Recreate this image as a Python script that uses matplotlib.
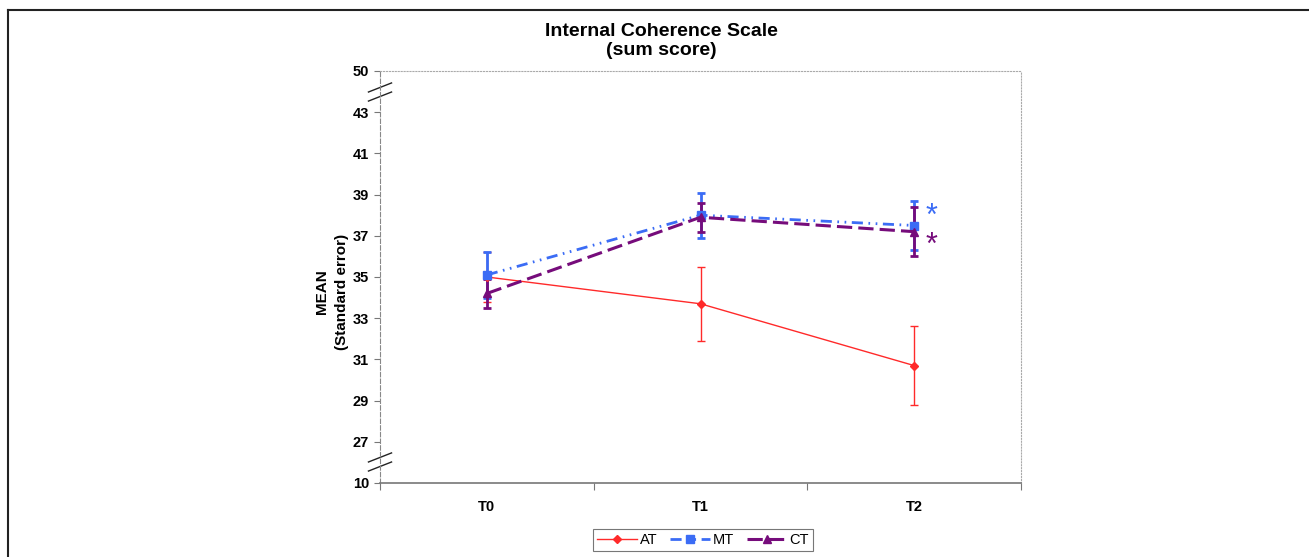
import matplotlib.pyplot as plt
from matplotlib.lines import Line2D

plt.rcParams['font.family'] = ['Liberation Sans', 'DejaVu Sans']

# data
times = ['T0', 'T1', 'T2']
at_mean = [35.0, 33.7, 30.7]
at_se = [1.2, 1.8, 1.9]
mt_mean = [35.1, 38.0, 37.5]
mt_se = [1.1, 1.1, 1.2]
ct_mean = [34.2, 37.9, 37.2]
ct_se = [0.7, 0.7, 1.2]

# broken axis: 25 is shown as 10, 45 as 50
ytick_pos = [25, 27, 29, 31, 33, 35, 37, 39, 41, 43, 45]
ytick_lab = ['10', '27', '29', '31', '33', '35', '37', '39', '41', '43', '50']

c_at = '#ff2a2a'
c_mt = '#3b6cf5'
c_ct = '#760c7b'
ls_mt = (0, (4, 2, 0.6, 2, 0.6, 2))
ls_ct = (0, (5, 2))

fig = plt.figure(figsize=(13.09, 5.57), dpi=100)
ax = fig.add_axes([380/1309, 1-483/557, 641/1309, 412/557])

x = list(range(len(times)))

ax.errorbar(x, at_mean, yerr=at_se, color=c_at, lw=1.0, marker='D', ms=4,
            capsize=3, elinewidth=1.0, capthick=1.0)
ax.errorbar(x, mt_mean, yerr=mt_se, color=c_mt, lw=2.0, marker='s', ms=6,
            linestyle=ls_mt, capsize=3, elinewidth=2.0, capthick=2.0)
ax.errorbar(x, ct_mean, yerr=ct_se, color=c_ct, lw=2.2, marker='^', ms=6,
            linestyle=ls_ct, capsize=3, elinewidth=2.0, capthick=2.0)

# significance stars at T2
ax.text(x[2] + 0.055, mt_mean[2] + 0.4, '*', color=c_mt, fontsize=22,
        va='center', ha='left')
ax.text(x[2] + 0.055, ct_mean[2] - 0.7, '*', color=c_ct, fontsize=22,
        va='center', ha='left')

ax.set_xlim(-0.5, 2.5)
ax.set_ylim(25, 45)
ax.set_yticks(ytick_pos)
ax.set_yticklabels(ytick_lab, fontweight='bold', fontsize=10.5)
ax.set_xticks([-0.5, 0.5, 1.5, 2.5])
ax.set_xticklabels([])
ax.set_xticks(x, minor=True)
ax.set_xticklabels(times, minor=True, fontweight='bold', fontsize=10.5)
ax.tick_params(axis='x', which='minor', length=0, pad=12)
ax.tick_params(axis='x', which='major', length=5, color='#777777', direction='out')
ax.tick_params(axis='y', length=4, color='#777777', pad=4)

ax.spines['left'].set_color('#888888')
ax.spines['left'].set_linestyle((0, (4, 2)))
ax.spines['bottom'].set_color('#777777')
ax.spines['bottom'].set_linewidth(1.2)
for s in ['top', 'right']:
    ax.spines[s].set_color('#aaaaaa')
    ax.spines[s].set_linestyle(':')
    ax.spines[s].set_linewidth(0.8)

# axis break marks
for yc in [0.949, 0.051]:
    for off in [-0.011, 0.011]:
        ax.plot([-0.018, 0.018], [yc + off - 0.011, yc + off + 0.011],
                transform=ax.transAxes, color='#222222', lw=1.0, clip_on=False)

fig.text(661/1309, 1-41/557, 'Internal Coherence Scale\n(sum score)',
         ha='center', va='center', fontsize=14, fontweight='bold',
         linespacing=1.15)
fig.text(332/1309, 1-292/557, 'MEAN\n(Standard error)', rotation=90,
         ha='center', va='center', fontsize=11, fontweight='bold',
         linespacing=1.5)

handles = [
    Line2D([], [], color=c_at, lw=1.0, marker='D', ms=4),
    Line2D([], [], color=c_mt, lw=2.0, marker='s', ms=6, linestyle=ls_mt),
    Line2D([], [], color=c_ct, lw=2.2, marker='^', ms=6, linestyle=ls_ct),
]
leg = fig.legend(handles, ['AT', 'MT', 'CT'], loc='center',
                 bbox_to_anchor=(703/1309, 1-540/557), ncol=3, fontsize=10.5,
                 frameon=True, fancybox=False, handlelength=2.7,
                 columnspacing=0.9, handletextpad=0.2, borderpad=0.3)
leg.get_frame().set_edgecolor('#555555')
leg.get_frame().set_linewidth(0.8)

# outer frame lines (top and left)
fig.add_artist(Line2D([8/1309, 1], [1-10/557, 1-10/557], color='#222222', lw=1.5))
fig.add_artist(Line2D([8/1309, 8/1309], [0, 1-10/557], color='#222222', lw=1.5))

fig.savefig('out.png', dpi=100)
